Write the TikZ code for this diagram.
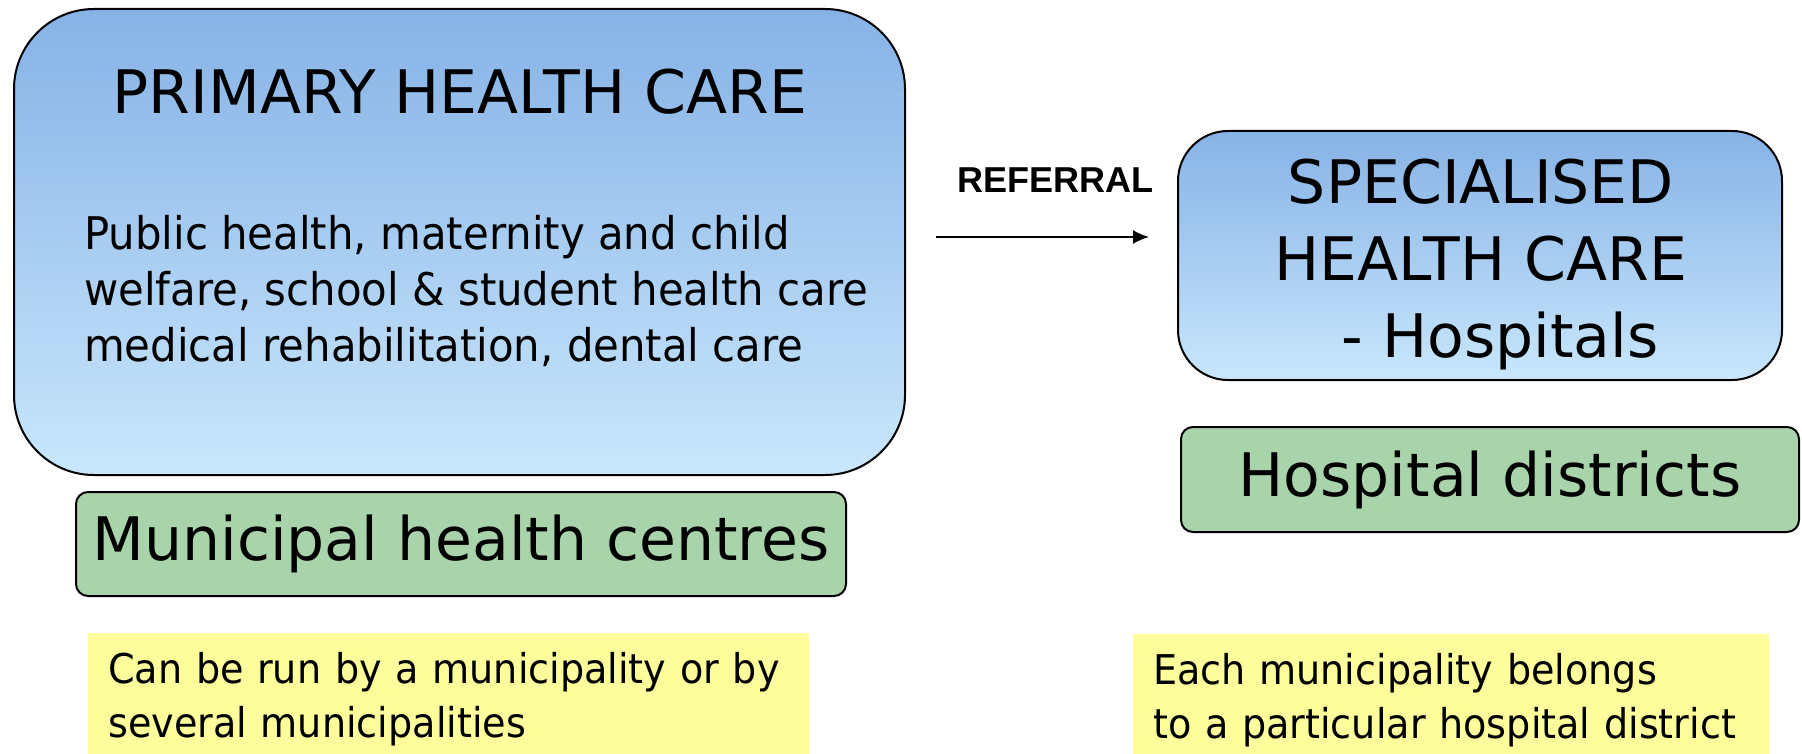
\documentclass[tikz,border=0pt]{standalone}
\usepackage{fontspec}
\usepackage{tikz}
\usetikzlibrary{positioning, calc, arrows.meta}
\setmainfont{DejaVu Sans}
\newfontfamily\narrowfont[FakeStretch=0.93]{DejaVu Sans}
\newfontfamily\labelfont{Liberation Sans}

\definecolor{bluetop}{HTML}{86B2E6}
\definecolor{bluebot}{HTML}{C9E7FC}
\definecolor{greenbox}{HTML}{A9D3AA}
\definecolor{yellowbox}{HTML}{FDFD9B}

\tikzset{
    carebox/.style={draw=black, line width=2pt, top color=bluetop, bottom color=bluebot},
    orgbox/.style={draw=black, line width=2pt, fill=greenbox, rounded corners=12pt},
    notebox/.style={fill=yellowbox, align=left, inner xsep=20pt, anchor=west}
}

\begin{document}
\begin{tikzpicture}[x=1pt, y=-1pt]
    \useasboundingbox (0,0) rectangle (1802,754);

    % Draw the care boxes
    \node[carebox, rounded corners=80pt, minimum width=891pt, minimum height=466pt] (primary) at (459.5,242) {};
    \node[carebox, rounded corners=50pt, minimum width=604pt, minimum height=249pt] (special) at (1480,255.5) {};

    % Text of the primary box
    \node[font=\fontsize{60}{70}\selectfont] (primtitle) at (460,92) {PRIMARY HEALTH CARE};
    \node[align=left, anchor=west, inner sep=0pt, font=\narrowfont\fontsize{45}{56}\selectfont] (primtext) at (84,291)
        {Public health, maternity and child\\welfare, school \& student health care\\medical rehabilitation, dental care};

    % Text of the specialised box
    \node[align=center, font=\fontsize{60}{77}\selectfont] (spectext) at (1481,264.5)
        {SPECIALISED\\HEALTH CARE\\\ \ - Hospitals};

    % Draw the organisations
    \node[orgbox, minimum width=770pt, minimum height=104pt, font=\fontsize{60}{70}\selectfont] (centres) at (461,544) {Municipal health centres};
    \node[orgbox, minimum width=618pt, minimum height=105pt, font=\fontsize{60}{70}\selectfont] (districts) at (1490,479.5) {Hospital districts};

    % Draw the referral arrow
    \coordinate (refstart) at (936,237);
    \coordinate (refend) at (1149,237);
    \draw[-{Latex[length=16pt, width=14pt]}, line width=2pt] (refstart) -- (refend);
    \node[font=\labelfont\fontsize{36}{40}\selectfont\bfseries] (referral) at (1055.5,180) {REFERRAL};

    % Draw the notes
    \node[notebox, text width=681pt, minimum height=133pt, font=\narrowfont\fontsize{41}{54}\selectfont] (runnote) at (88,699.5)
        {Can be run by a municipality or by\\several municipalities};
    \node[notebox, text width=596pt, minimum height=133pt, font=\narrowfont\fontsize{41}{54}\selectfont] (districtnote) at (1133,700)
        {Each municipality belongs\\to a particular hospital district};
\end{tikzpicture}
\end{document}
